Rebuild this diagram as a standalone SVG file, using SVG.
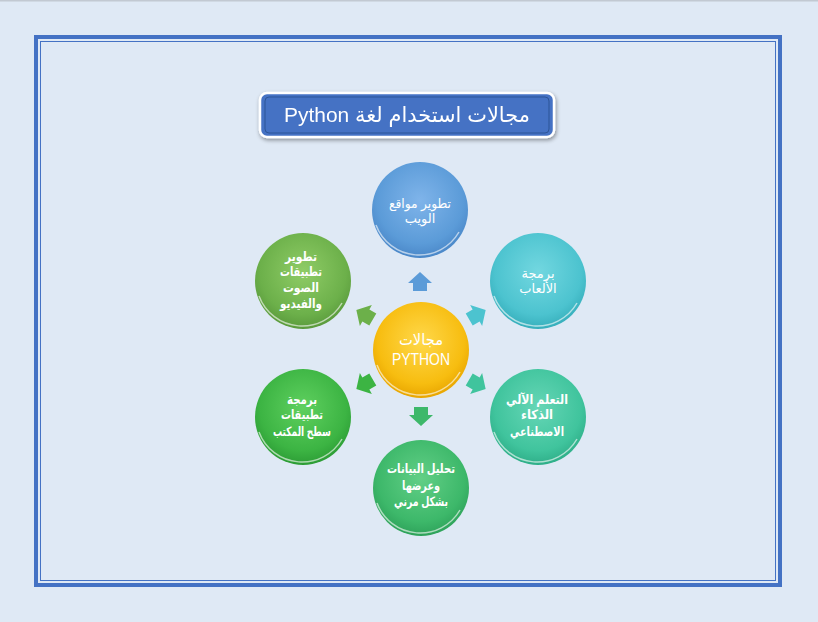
<svg xmlns="http://www.w3.org/2000/svg" width="818" height="622" viewBox="0 0 818 622">
<style>
.t{fill:#fff;font-family:"Liberation Sans","DejaVu Sans",sans-serif;font-size:13px;text-anchor:middle;direction:rtl}
.b{font-weight:bold}
.hl{fill:none;stroke:#fff;stroke-opacity:0.6;stroke-width:1.5}
</style>
<defs>
<radialGradient id="gy" cx="0.5" cy="0.4" r="0.6"><stop offset="0" stop-color="#ffd84a"/><stop offset="0.75" stop-color="#f7bd10"/><stop offset="1" stop-color="#e8a500"/></radialGradient>
<radialGradient id="gb" cx="0.5" cy="0.4" r="0.6"><stop offset="0" stop-color="#7fb4ea"/><stop offset="0.75" stop-color="#5b9bd8"/><stop offset="1" stop-color="#4a87c8"/></radialGradient>
<radialGradient id="gt" cx="0.5" cy="0.4" r="0.6"><stop offset="0" stop-color="#72d7e0"/><stop offset="0.75" stop-color="#4cc3cf"/><stop offset="1" stop-color="#36aebb"/></radialGradient>
<radialGradient id="gtg" cx="0.5" cy="0.4" r="0.6"><stop offset="0" stop-color="#66d6b6"/><stop offset="0.75" stop-color="#40c49d"/><stop offset="1" stop-color="#2eae88"/></radialGradient>
<radialGradient id="gg" cx="0.5" cy="0.4" r="0.6"><stop offset="0" stop-color="#62cf86"/><stop offset="0.75" stop-color="#3db86a"/><stop offset="1" stop-color="#2ea25a"/></radialGradient>
<radialGradient id="gl" cx="0.5" cy="0.4" r="0.6"><stop offset="0" stop-color="#5fd05f"/><stop offset="0.75" stop-color="#3cb443"/><stop offset="1" stop-color="#2c9c35"/></radialGradient>
<radialGradient id="go" cx="0.5" cy="0.4" r="0.6"><stop offset="0" stop-color="#8fcc66"/><stop offset="0.75" stop-color="#6cb04a"/><stop offset="1" stop-color="#5a9a3c"/></radialGradient>
<path id="ar" d="M-12,1 L0,-10 L12,1 L7,1 L7,9 L-7,9 L-7,1 Z"/>
<filter id="sh" x="-20%" y="-20%" width="140%" height="150%"><feGaussianBlur in="SourceAlpha" stdDeviation="2"/><feOffset dx="1" dy="2"/><feComponentTransfer><feFuncA type="linear" slope="0.4"/></feComponentTransfer><feMerge><feMergeNode/><feMergeNode in="SourceGraphic"/></feMerge></filter>
</defs>
<rect width="818" height="622" fill="#dfe9f5"/>
<rect x="0" y="0" width="818" height="1.5" fill="#c2c9d2"/>
<rect x="36" y="37" width="744" height="548" fill="none" stroke="#4472c4" stroke-width="4"/>
<rect x="40.5" y="41.5" width="735" height="539" fill="none" stroke="#4472c4" stroke-width="1"/>
<g id="title" filter="url(#sh)">
<rect x="260" y="93" width="294" height="44" rx="7" fill="#4472c4" stroke="#fff" stroke-width="2.5"/>
<rect x="265" y="97" width="284" height="36" rx="4" fill="none" stroke="#2f5597" stroke-width="1"/>
<text x="407" y="122" textLength="246" lengthAdjust="spacingAndGlyphs" style="fill:#fff;font-family:'Liberation Sans','DejaVu Sans',sans-serif;font-size:21px;text-anchor:middle;direction:rtl">مجالات استخدام لغة Python</text>
</g>
<g id="connectors">
<use href="#ar" transform="translate(420,282)" fill="#5b9bd8"/>
<use href="#ar" transform="translate(477,315) rotate(60)" fill="#4cc3cf"/>
<use href="#ar" transform="translate(477,384) rotate(120)" fill="#40c49d"/>
<use href="#ar" transform="translate(421,416) rotate(180)" fill="#3db86a"/>
<use href="#ar" transform="translate(365,384) rotate(240)" fill="#3cb443"/>
<use href="#ar" transform="translate(365,315) rotate(300)" fill="#6cb04a"/>
</g>
<g id="center">
<circle cx="421" cy="350" r="48" fill="url(#gy)"/>
<path class="hl" d="M377,365 A46,46 0 0 0 460,372"/>
<text class="t" style="font-size:16px" x="421" y="345" textLength="44" lengthAdjust="spacingAndGlyphs">مجالات</text>
<text class="t" style="font-size:16px" x="421" y="365" textLength="58" lengthAdjust="spacingAndGlyphs">PYTHON</text>
</g>
<g id="n-top">
<circle cx="420" cy="210" r="48" fill="url(#gb)"/>
<path class="hl" d="M376,225 A46,46 0 0 0 459,232"/>
<text class="t" x="420" y="208" textLength="62" lengthAdjust="spacingAndGlyphs">تطوير مواقع</text>
<text class="t" x="420" y="223">الويب</text>
</g>
<g id="n-topright">
<circle cx="538" cy="281" r="48" fill="url(#gt)"/>
<path class="hl" d="M494,296 A46,46 0 0 0 577,303"/>
<text class="t" x="538" y="278">برمجة</text>
<text class="t" x="538" y="293">الألعاب</text>
</g>
<g id="n-bottomright">
<circle cx="538" cy="417" r="48" fill="url(#gtg)"/>
<path class="hl" d="M494,432 A46,46 0 0 0 577,439"/>
<text class="t b" x="537" y="404" textLength="62" lengthAdjust="spacingAndGlyphs">التعلم الآلي</text>
<text class="t b" x="537" y="419" textLength="32" lengthAdjust="spacingAndGlyphs">الذكاء</text>
<text class="t b" x="537" y="436" textLength="54" lengthAdjust="spacingAndGlyphs">الاصطناعي</text>
</g>
<g id="n-bottom">
<circle cx="421" cy="488" r="48" fill="url(#gg)"/>
<path class="hl" d="M377,503 A46,46 0 0 0 460,510"/>
<text class="t b" x="421" y="473" textLength="68" lengthAdjust="spacingAndGlyphs">تحليل البيانات</text>
<text class="t b" x="421" y="490" textLength="38" lengthAdjust="spacingAndGlyphs">وعرضها</text>
<text class="t b" x="421" y="506" textLength="54" lengthAdjust="spacingAndGlyphs">بشكل مرني</text>
</g>
<g id="n-bottomleft">
<circle cx="303" cy="417" r="48" fill="url(#gl)"/>
<path class="hl" d="M259,432 A46,46 0 0 0 342,439"/>
<text class="t b" x="302" y="404" textLength="30" lengthAdjust="spacingAndGlyphs">برمجة</text>
<text class="t b" x="302" y="419" textLength="42" lengthAdjust="spacingAndGlyphs">تطبيقات</text>
<text class="t b" x="302" y="436" textLength="58" lengthAdjust="spacingAndGlyphs">سطح المكتب</text>
</g>
<g id="n-topleft">
<circle cx="303" cy="281" r="48" fill="url(#go)"/>
<path class="hl" d="M259,296 A46,46 0 0 0 342,303"/>
<text class="t b" x="301" y="261" textLength="32" lengthAdjust="spacingAndGlyphs">تطوير</text>
<text class="t b" x="301" y="276" textLength="42" lengthAdjust="spacingAndGlyphs">تطبيقات</text>
<text class="t b" x="301" y="292" textLength="36" lengthAdjust="spacingAndGlyphs">الصوت</text>
<text class="t b" x="301" y="308" textLength="42" lengthAdjust="spacingAndGlyphs">والفيديو</text>
</g>
</svg>
